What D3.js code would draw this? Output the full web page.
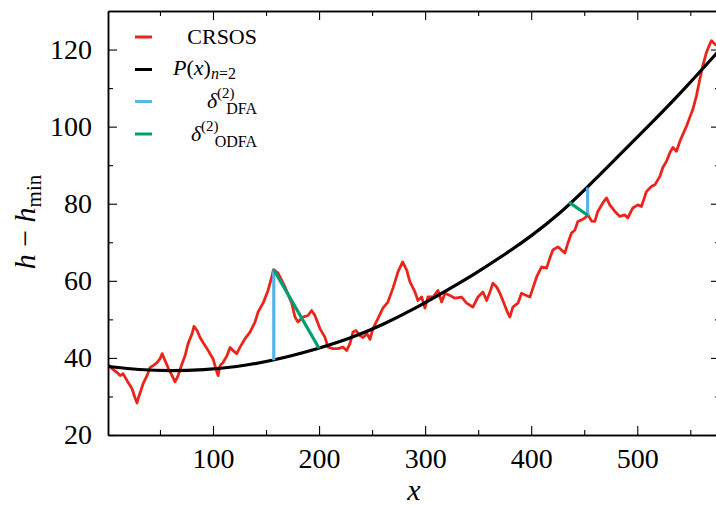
<!DOCTYPE html>
<html>
<head>
<meta charset="utf-8">
<script src="https://cdn.jsdelivr.net/npm/d3@7"></script>
<style>
  body { margin: 0; background: #fff; }
  text { font-family: 'Liberation Serif', serif; }
</style>
</head>
<body>
<script>
// CRSOS profile as (x, h - hmin)
var crsos = [[1.1,38.2],[4.9,37.2],[9.6,36.2],[12.4,35.4],[15.2,35.9],[19.0,34.1],[23.7,32.0],[26.5,29.6],
  [28.4,28.3],[29.4,29.4],[34.1,33.3],[37.8,35.4],[40.7,37.5],[43.5,38.0],[47.3,38.8],[50.1,39.8],[52.0,41.1],
  [54.8,39.3],[57.6,37.5],[61.4,35.4],[64.2,33.8],[67.1,35.4],[70.8,38.5],[73.7,40.6],[76.5,43.7],[80.3,46.3],
  [82.1,48.2],[85.0,47.1],[87.8,45.3],[90.6,44.0],[94.4,42.4],[97.2,41.1],[100.0,39.8],[103.8,36.2],[104.8,35.4],
  [106.6,38.0],[109.5,38.8],[113.2,40.6],[116.1,42.7],[118.9,41.9],[122.4,41.1],[125.5,42.8],[130.2,45.0],
  [134.9,46.7],[139.6,49.3],[142.5,51.9],[147.2,54.2],[151.9,57.5],[155.4,61.0],[157.0,62.9],[161.3,62.0],
  [167.9,58.4],[174.2,54.2],[177.3,50.6],[180.1,49.3],[184.8,50.6],[189.6,51.0],[193.0,52.3],[196.1,51.0],
  [200.8,47.6],[205.5,45.4],[208.4,42.8],[213.1,42.4],[217.8,42.4],[222.5,42.8],[226.0,41.9],[229.1,43.7],
  [232.0,46.7],[234.8,47.1],[238.6,45.8],[241.4,45.3],[245.2,46.3],[248.0,44.8],[250.8,47.6],[255.5,50.2],
  [260.2,52.9],[264.9,54.5],[269.7,58.1],[274.4,62.3],[278.8,64.9],[282.6,62.8],[285.7,59.7],[290.4,57.1],
  [293.2,54.9],[296.7,55.8],[299.8,52.9],[302.6,55.8],[307.4,55.8],[312.1,57.5],[315.6,54.5],[318.7,56.8],
  [323.4,56.2],[328.1,55.5],[334.4,55.8],[339.1,54.2],[345.0,53.2],[349.8,55.8],[354.5,57.1],[358.0,54.9],
  [361.1,57.1],[363.9,59.4],[367.4,58.4],[370.5,56.8],[373.3,54.9],[378.0,51.6],[379.9,50.6],[382.7,53.2],
  [387.5,54.2],[390.9,56.8],[395.6,56.2],[398.8,55.8],[401.6,58.1],[405.1,61.0],[409.8,63.6],[414.5,63.3],
  [417.6,65.9],[420.4,68.0],[425.2,68.8],[428.6,68.0],[431.7,67.2],[434.6,69.8],[438.0,72.4],[441.2,73.2],
  [444.0,75.4],[447.5,75.8],[450.6,76.3],[453.5,77.1],[456.9,75.5],[460.0,75.4],[462.8,78.0],[467.5,80.2],
  [471.0,81.5],[474.1,79.7],[478.9,78.0],[483.6,76.7],[488.3,77.1],[491.1,76.3],[495.8,78.9],[500.5,79.7],
  [504.0,79.3],[508.7,83.2],[513.4,84.5],[516.6,84.9],[521.3,87.1],[524.1,89.4],[527.6,91.0],[530.8,93.3],
  [533.6,94.6],[537.0,93.6],[540.2,96.2],[543.0,98.0],[546.4,100.1],[549.5,102.4],[552.4,104.5],[555.8,108.0],
  [559.0,112.3],[561.8,115.8],[565.3,119.3],[568.4,121.4],[570.0,122.3],[573.1,121.4],[576.0,121.0]]

// second order fit P(x)
var poly = [[1,37.8],[30,36.9],[60,36.6],[92,36.9],[121,37.6],[157,39.3],[198,42.3],[229,45.0],[260,48.6],
  [287,52.3],[319,57.3],[347,61.8],[375,66.8],[400,71.6],[426,77.2],[452,84.0],[482,92.3],[513,100.8],
  [545,109.9],[578,120.0]]

// residual segments
var dfa = [[[157.3,62.9],[157.3,39.4]], [[453.2,77.0],[453.2,84.2]]]
var odfa = [[[157.3,62.9],[200,42.5]], [[453.2,77.0],[435.5,80.4]]]

var xMajor = [100, 200, 300, 400, 500]
var xMinor = [50, 150, 250, 350, 450, 550]
var yMajor = [20, 40, 60, 80, 100, 120]
var yMinor = [30, 50, 70, 90, 110]

var red = '#e8261c', blue = '#56b4e9', green = '#009e73'

var width = 716, height = 506
var mLeft = 108, mRight = 720, mTop = 11, mBottom = 435

var x = d3.scaleLinear().domain([1, 578]).range([mLeft, mRight])
var y = d3.scaleLinear().domain([20, 130]).range([mBottom, mTop])

var svg = d3.select('body').append('svg')
  .attr('width', width)
  .attr('height', height)

svg.append('defs').append('clipPath').attr('id', 'clip')
  .append('rect').attr('x', mLeft).attr('y', mTop)
  .attr('width', mRight - mLeft).attr('height', mBottom - mTop)

var line = d3.line().x(d => x(d[0])).y(d => y(d[1]))
var plot = svg.append('g').attr('clip-path', 'url(#clip)')

plot.append('path').datum(crsos)
  .attr('d', line)
  .attr('fill', 'none').attr('stroke', red).attr('stroke-width', 2.8)
  .attr('stroke-linejoin', 'round')

plot.append('path').datum(poly)
  .attr('d', line.curve(d3.curveBasis))
  .attr('fill', 'none').attr('stroke', '#000').attr('stroke-width', 3.2)

line.curve(d3.curveLinear)
plot.selectAll('.dfa').data(dfa).enter().append('path')
  .attr('d', line).attr('stroke', blue).attr('stroke-width', 3.2)
plot.selectAll('.odfa').data(odfa).enter().append('path')
  .attr('d', line).attr('stroke', green).attr('stroke-width', 3.2)

// axes, ticks pointing inward on all four sides
function axis(gen, tr, vals, size, pad, labels) {
  var a = gen.tickValues(vals).tickSize(-size).tickSizeOuter(0).tickPadding(pad)
  if (!labels) a.tickFormat('')
  var g = svg.append('g').attr('transform', tr).call(a)
  g.select('.domain').attr('stroke-width', 1.5)
  g.selectAll('.tick line').attr('stroke-width', 1.1)
  g.selectAll('text').style('font-size', '28px').attr('fill', '#000')
  return g
}
axis(d3.axisBottom(x), `translate(0,${mBottom})`, xMajor, 9, 13, true)
axis(d3.axisBottom(x), `translate(0,${mBottom})`, xMinor, 5, 0, false)
axis(d3.axisTop(x), `translate(0,${mTop})`, xMajor, 9, 0, false)
axis(d3.axisTop(x), `translate(0,${mTop})`, xMinor, 5, 0, false)
axis(d3.axisLeft(y), `translate(${mLeft},0)`, yMajor, 9, 16, true)
axis(d3.axisLeft(y), `translate(${mLeft},0)`, yMinor, 5, 0, false)
axis(d3.axisRight(y), `translate(${mRight},0)`, yMajor, 9, 0, false)
axis(d3.axisRight(y), `translate(${mRight},0)`, yMinor, 5, 0, false)

// axis labels
svg.append('text')
  .attr('x', 414).attr('y', 500)
  .attr('text-anchor', 'middle')
  .style('font-size', '30px').style('font-style', 'italic')
  .text('x')

var yl = svg.append('text')
  .attr('transform', 'translate(35,222) rotate(-90)')
  .attr('text-anchor', 'middle')
  .style('font-size', '30px')
yl.append('tspan').style('font-style', 'italic').text('h')
yl.append('tspan').text(' \u2212 ')
yl.append('tspan').style('font-style', 'italic').text('h')
yl.append('tspan').attr('dy', 6).style('font-size', '21px').text('min')

// legend
var lg = svg.append('g')
function key(col, yy) {
  lg.append('line').attr('x1', 135).attr('x2', 152).attr('y1', yy).attr('y2', yy)
    .attr('stroke', col).attr('stroke-width', 3)
}
key(red, 37); key('#000', 69.5); key(blue, 101.5); key(green, 134)

lg.append('text').attr('x', 257).attr('y', 44).attr('text-anchor', 'end')
  .style('font-size', '22px').text('CRSOS')

var pt = lg.append('text').attr('x', 173).attr('y', 75).style('font-size', '22px')
pt.append('tspan').style('font-style', 'italic').text('P')
pt.append('tspan').text('(')
pt.append('tspan').style('font-style', 'italic').text('x')
pt.append('tspan').text(')')
pt.append('tspan').attr('dy', 4).style('font-size', '16px')
  .append('tspan').style('font-style', 'italic').text('n')
pt.append('tspan').style('font-size', '16px').text('=2')

function delta(x0, base, sub) {
  lg.append('text').attr('x', x0).attr('y', base).style('font-size', '22px')
    .style('font-style', 'italic').text('\u03b4')
  lg.append('text').attr('x', x0 + 10).attr('y', base - 10).style('font-size', '15px').text('(2)')
  lg.append('text').attr('x', 257).attr('y', base + 6).attr('text-anchor', 'end')
    .style('font-size', '16px').text(sub)
}
delta(207, 108, 'DFA')
delta(191, 141, 'ODFA')
</script>
</body>
</html>
